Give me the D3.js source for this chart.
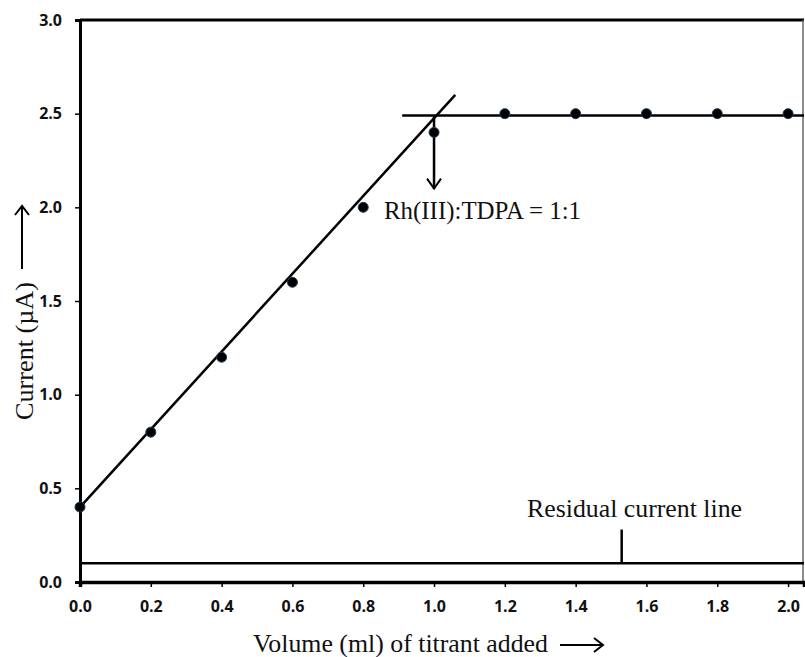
<!DOCTYPE html>
<html>
<head>
<meta charset="utf-8">
<script src="https://cdnjs.cloudflare.com/ajax/libs/d3/7.8.5/d3.min.js"></script>
<style>
  body { margin: 0; background: #fff; }
  .tick text { font-family: "Open Sans", "Liberation Sans", sans-serif; font-weight: bold; font-size: 16px; fill: #111; }
  .serif { font-family: "Liberation Serif", "DejaVu Serif", serif; fill: #111; }
</style>
</head>
<body>
<div id="chart"></div>
<script>
// データ
var volume = [0.0, 0.2, 0.4, 0.6, 0.8, 1.0, 1.2, 1.4, 1.6, 1.8, 2.0];
var current = [0.4, 0.8, 1.2, 1.6, 2.0, 2.4, 2.5, 2.5, 2.5, 2.5, 2.5];
var xTicks = [0.0, 0.2, 0.4, 0.6, 0.8, 1.0, 1.2, 1.4, 1.6, 1.8, 2.0];
var yTicks = [0.0, 0.5, 1.0, 1.5, 2.0, 2.5, 3.0];
// 直線（目視で読んだ値）
var riseLine = [[0.0, 0.4], [1.06, 2.6]];
var plateauLine = [[0.91, 2.49], [2.045, 2.49]];
var residualLine = [[0.0, 0.1], [2.045, 0.1]];
var residualTick = [[1.53, 0.1], [1.53, 0.28]];
var endPointArrow = [[1.0, 2.49], [1.0, 2.1]];

var width = 805, height = 657;
var padding = { top: 20, right: 1, bottom: 75, left: 80 };

var svg = d3.select("#chart").append("svg")
  .attr("width", width).attr("height", height);

var xScale = d3.scaleLinear().domain([0, 2.045])
  .range([padding.left, width - padding.right]);
var yScale = d3.scaleLinear().domain([0, 3])
  .range([height - padding.bottom, padding.top]);

// 枠（上と右）
svg.append("line")
  .attr("x1", xScale(0)).attr("x2", xScale(2.045))
  .attr("y1", yScale(3)).attr("y2", yScale(3))
  .attr("stroke", "#000").attr("stroke-width", 3);
svg.append("line")
  .attr("x1", xScale(2.045) - 1).attr("x2", xScale(2.045) - 1)
  .attr("y1", yScale(3)).attr("y2", yScale(0))
  .attr("stroke", "#666").attr("stroke-width", 1.5);

// X軸
var gX = svg.append("g")
  .attr("transform", "translate(0," + yScale(0) + ")")
  .call(d3.axisBottom(xScale).tickValues(xTicks).tickSize(5).tickPadding(14)
    .tickFormat(d3.format(".1f")));
gX.select(".domain").attr("stroke-width", 3.5);
gX.selectAll(".tick line").attr("stroke-width", 1.5);

// Y軸
var gY = svg.append("g")
  .attr("transform", "translate(" + xScale(0) + ",0)")
  .call(d3.axisLeft(yScale).tickValues(yTicks).tickSize(5).tickPadding(13)
    .tickFormat(d3.format(".1f")));
gY.select(".domain").attr("stroke-width", 3);
gY.selectAll(".tick line").attr("stroke-width", 1.5);

var line = d3.line()
  .x(function (d) { return xScale(d[0]); })
  .y(function (d) { return yScale(d[1]); });

[riseLine, plateauLine, residualLine, residualTick, endPointArrow].forEach(function (seg) {
  svg.append("path").attr("d", line(seg))
    .attr("fill", "none").attr("stroke", "#000").attr("stroke-width", 2.5);
});

// 矢印の先
var ax = xScale(endPointArrow[1][0]), ay = yScale(endPointArrow[1][1]);
svg.append("path")
  .attr("d", "M" + (ax - 7) + "," + (ay - 10) + "L" + ax + "," + ay + "L" + (ax + 7) + "," + (ay - 10))
  .attr("fill", "none").attr("stroke", "#000").attr("stroke-width", 2);

// 点
svg.selectAll("circle.pt")
  .data(volume.map(function (v, i) { return [v, current[i]]; }))
  .enter().append("circle")
  .attr("class", "pt")
  .attr("cx", function (d) { return xScale(d[0]); })
  .attr("cy", function (d) { return yScale(d[1]); })
  .attr("r", 5)
  .attr("fill", "#000").attr("stroke", "#1f3a5a").attr("stroke-width", 1);

// 注釈
svg.append("text").attr("class", "serif")
  .attr("x", 384).attr("y", 219).attr("font-size", 25)
  .attr("textLength", 197).attr("lengthAdjust", "spacingAndGlyphs")
  .text("Rh(III):TDPA = 1:1");
svg.append("text").attr("class", "serif")
  .attr("x", 527).attr("y", 517).attr("font-size", 25)
  .attr("textLength", 215).attr("lengthAdjust", "spacingAndGlyphs")
  .text("Residual current line");

// X軸タイトル
svg.append("text").attr("class", "serif")
  .attr("x", 253).attr("y", 652).attr("font-size", 25.5)
  .attr("textLength", 295).attr("lengthAdjust", "spacingAndGlyphs")
  .text("Volume (ml) of titrant added");
svg.append("line")
  .attr("x1", 560).attr("x2", 602).attr("y1", 645).attr("y2", 645)
  .attr("stroke", "#000").attr("stroke-width", 2);
svg.append("path")
  .attr("d", "M594,638L603,645L594,652")
  .attr("fill", "none").attr("stroke", "#000").attr("stroke-width", 2);

// Y軸タイトル
svg.append("text").attr("class", "serif")
  .attr("transform", "translate(33,420) rotate(-90)")
  .attr("font-size", 25.5)
  .attr("textLength", 138).attr("lengthAdjust", "spacingAndGlyphs")
  .text("Current (\u00b5A)");
svg.append("line")
  .attr("x1", 22).attr("x2", 22).attr("y1", 269).attr("y2", 207)
  .attr("stroke", "#000").attr("stroke-width", 2);
svg.append("path")
  .attr("d", "M15,215L22,206L29,215")
  .attr("fill", "none").attr("stroke", "#000").attr("stroke-width", 2);
</script>
</body>
</html>
